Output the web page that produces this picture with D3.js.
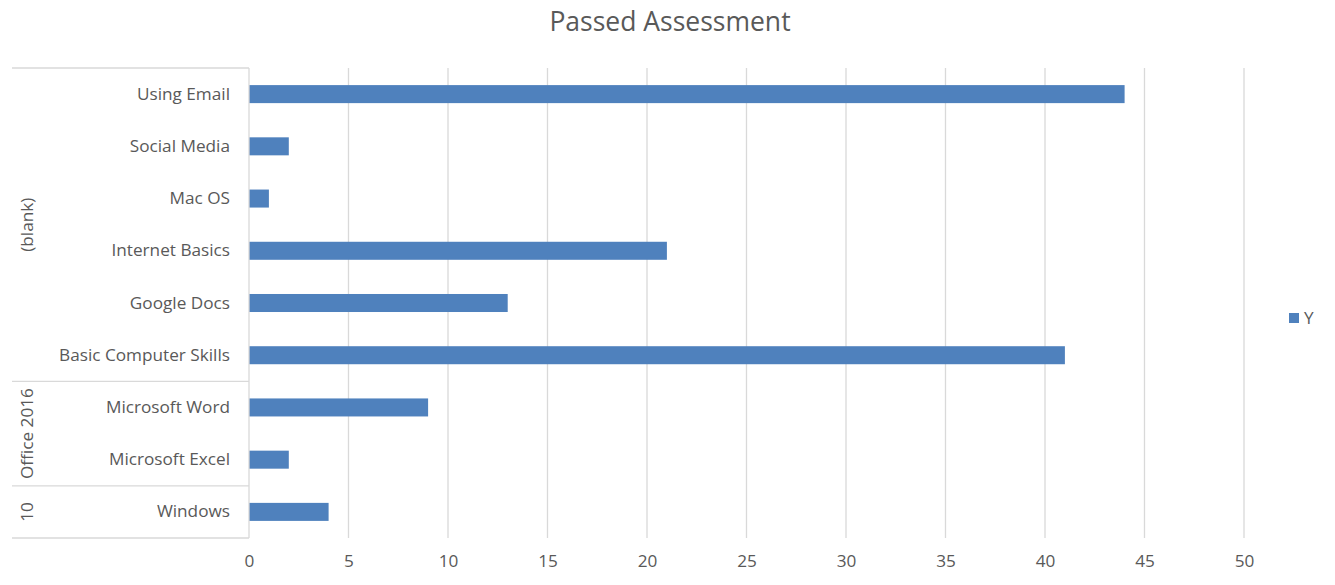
<!DOCTYPE html>
<html><head><meta charset="utf-8">
<script src="https://cdn.jsdelivr.net/npm/d3@7"></script>
<style>body{margin:0;background:#fff}svg{display:block}text{font-family:"Open Sans",Lato,sans-serif;fill:#595959}</style>
</head><body><svg id="c" width="1335" height="585"></svg>
<script>
const categories = ["Using Email","Social Media","Mac OS","Internet Basics","Google Docs","Basic Computer Skills","Microsoft Word","Microsoft Excel","Windows"];
const groups = ["(blank)","(blank)","(blank)","(blank)","(blank)","(blank)","Office 2016","Office 2016","10"];
const values = [44,2,1,21,13,41,9,2,4];
const ticks = [0,5,10,15,20,25,30,35,40,45,50];
const seriesName = "Y";

(function(){
const svg = d3.select("#c");
const pL = 249, pR = 1244, pT = 68, pB = 538;
const fs = "17.2px";
const x = d3.scaleLinear().domain([0,50]).range([pL,pR]);
const y = d3.scaleBand().domain(categories).range([pT,pB]).paddingInner(0.655).paddingOuter(0.3275);

svg.append("text").attr("x",670).attr("y",31).attr("text-anchor","middle").style("font-size","26.5px").text("Passed Assessment");

svg.append("g").selectAll("line").data(ticks.slice(1)).join("line")
  .attr("x1",d=>x(d)).attr("x2",d=>x(d)).attr("y1",pT).attr("y2",pB)
  .attr("stroke","#d9d9d9").attr("stroke-width",1.3);

const xa = svg.append("g").attr("transform",`translate(0,${pB})`)
  .call(d3.axisBottom(x).tickValues(ticks).tickSize(0).tickPadding(17));
xa.select(".domain").remove();
xa.selectAll("text").style("font-size",fs).attr("fill","#595959").style("font-family",'"Open Sans",Lato,sans-serif');

svg.append("g").selectAll("rect").data(values).join("rect")
  .attr("x",x(0)).attr("y",(d,i)=>y(categories[i]))
  .attr("width",d=>x(d)-x(0)).attr("height",y.bandwidth())
  .attr("fill","#4f81bd");

const ya = svg.append("g").attr("transform",`translate(${pL},0)`)
  .call(d3.axisLeft(y).tickSize(0).tickPadding(19));
ya.select(".domain").remove();
ya.selectAll("text").style("font-size",fs).attr("fill","#595959").style("font-family",'"Open Sans",Lato,sans-serif');

const step = y.step();
const axisColor = "#d9d9d9";
svg.append("line").attr("x1",pL).attr("x2",pL).attr("y1",pT).attr("y2",pB).attr("stroke",axisColor).attr("stroke-width",1.3);

const groupNames = [...new Set(groups)];
const spans = groupNames.map(g=>{
  const idx = groups.map((v,i)=>v===g?i:-1).filter(i=>i>=0);
  return {g, start: pT + idx[0]*step, end: pT + (idx[idx.length-1]+1)*step};
});
const bounds = [pT, ...spans.map(s=>s.end)];
svg.append("g").selectAll("line").data(bounds).join("line")
  .attr("x1",12).attr("x2",pL).attr("y1",d=>d).attr("y2",d=>d)
  .attr("stroke",axisColor).attr("stroke-width",1.3);
svg.append("g").selectAll("text").data(spans).join("text")
  .attr("transform",d=>`translate(33,${(d.start+d.end)/2}) rotate(-90)`)
  .attr("text-anchor","middle").style("font-size",fs).text(d=>d.g);

svg.append("rect").attr("x",1289).attr("y",313).attr("width",10).attr("height",10).attr("fill","#4f81bd");
svg.append("text").attr("x",1304).attr("y",324).style("font-size",fs).text(seriesName);
})();
</script></body></html>
